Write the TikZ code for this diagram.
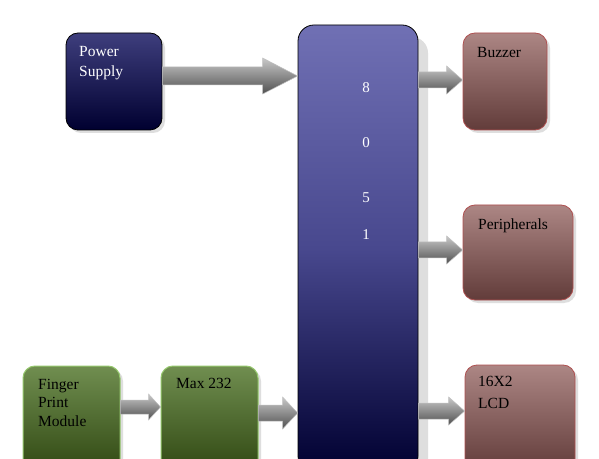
\documentclass[tikz,border=0pt]{standalone}
\usepackage{fontspec}
\setmainfont{Liberation Serif}
\usetikzlibrary{calc,shadows}
\definecolor{navyTop}{RGB}{62,62,125}
\definecolor{navyBot}{RGB}{0,0,48}
\definecolor{mcuTop}{RGB}{112,112,180}
\definecolor{mcuMid}{RGB}{72,72,142}
\definecolor{brTop}{RGB}{172,134,132}
\definecolor{brBot}{RGB}{98,60,58}
\definecolor{brLine}{RGB}{175,80,80}
\definecolor{grTop}{RGB}{112,142,80}
\definecolor{grBot}{RGB}{48,72,18}
\definecolor{grLine}{RGB}{150,200,110}
\definecolor{shadowGray}{RGB}{190,190,190}
\definecolor{arTop}{RGB}{200,200,200}
\definecolor{arBot}{RGB}{80,80,80}
\tikzset{
  box/.style={rectangle, rounded corners=12pt, inner sep=0pt,
    drop shadow={shadow xshift=3pt, shadow yshift=-3pt, fill=shadowGray}},
  navybox/.style={box, draw=black, line width=0.8pt, top color=navyTop, bottom color=navyBot},
  mcubox/.style={rectangle, rounded corners=16pt, inner sep=0pt, draw=black, line width=0.8pt,
    top color=mcuTop, bottom color=navyBot, middle color=mcuMid,
    drop shadow={shadow xshift=10pt, shadow yshift=-12pt, fill=shadowGray}},
  brownbox/.style={box, draw=brLine, line width=0.8pt, top color=brTop, bottom color=brBot},
  greenbox/.style={box, draw=grLine, line width=1pt, top color=grTop, bottom color=grBot},
  lbl/.style={anchor=base west, align=left, font=\fontsize{15.5}{20}\selectfont, inner sep=0pt},
  digit/.style={text=white, font=\fontsize{15}{16}\selectfont},
  blockarrow/.style={top color=arTop, bottom color=arBot, draw=gray!50, line width=0.5pt}
}
% #1 source node anchor, #2 target node anchor, #3 y, #4 half shaft, #5 half head, #6 head length
\newcommand{\bkarrow}[6]{%
  \path[blockarrow] let \p1=(#1), \p2=(#2) in
    (\x1,#3-#4) -- (\x2-#6,#3-#4) -- (\x2-#6,#3-#5) -- (\x2,#3)
    -- (\x2-#6,#3+#5) -- (\x2-#6,#3+#4) -- (\x1,#3+#4) -- cycle;}
\begin{document}
\begin{tikzpicture}[x=1pt,y=1pt]
\useasboundingbox (0,0) rectangle (599,458);
\clip (0,0) rectangle (599,458);
\fill[white] (0,0) rectangle (599,458);
% blocks
\node[mcubox, minimum width=120pt, minimum height=447pt] (mcu) at (358,209.5) {};
\node[navybox, minimum width=96pt, minimum height=97pt] (ps) at (114,376.5) {};
\node[brownbox, minimum width=84pt, minimum height=97pt] (buz) at (505,376.5) {};
\node[brownbox, minimum width=110pt, minimum height=95pt] (per) at (518,205.5) {};
\node[brownbox, minimum width=110pt, minimum height=106pt] (lcd) at (520,40) {};
\node[greenbox, minimum width=97pt, minimum height=106pt] (fpm) at (71.5,39) {};
\node[greenbox, minimum width=97pt, minimum height=106pt] (max) at (209.5,39) {};
% labels (base anchor = baseline of last line)
\node[lbl, text=white] (pst) at (79,381) {Power\\Supply};
\node[lbl] (buzt) at (477,400) {Buzzer};
\node[lbl] (pert) at (478,228) {Peripherals};
\node[lbl, font=\fontsize{15.5}{22}\selectfont] (lcdt) at (478,50) {16X2\\LCD};
\node[lbl, font=\fontsize{15.5}{18.5}\selectfont] (fpmt) at (38,32) {Finger\\Print\\Module};
\node[lbl] (maxt) at (176,70) {Max 232};
\node[digit] (d8) at (366,370) {8};
\node[digit] (d0) at (366,315) {0};
\node[digit] (d5) at (366,260) {5};
\node[digit] (d1) at (366,223) {1};
% arrows
\bkarrow{ps.east}{mcu.west}{382}{9}{18}{35}
\bkarrow{mcu.east}{buz.west}{378}{8}{14}{16}
\bkarrow{mcu.east}{per.west}{208}{8}{14}{16}
\bkarrow{mcu.east}{lcd.west}{47}{8}{14}{16}
\bkarrow{fpm.east}{max.west}{51}{7}{13}{12}
\bkarrow{max.east}{mcu.west}{45}{8}{16}{15}
\end{tikzpicture}
\end{document}
